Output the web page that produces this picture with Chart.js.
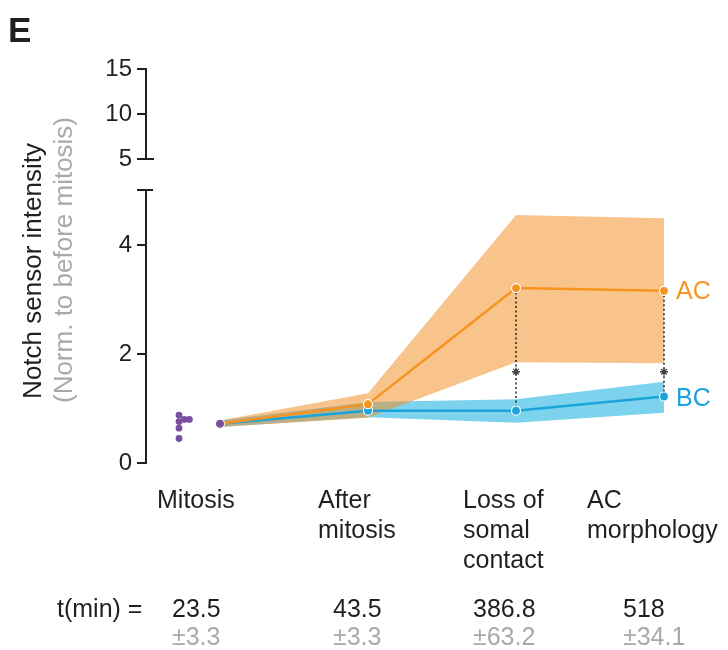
<!DOCTYPE html>
<html>
<head>
<meta charset="utf-8">
<script src="https://cdn.jsdelivr.net/npm/chart.js@4"></script>
<style>
  html, body { margin: 0; padding: 0; background: #fff; }
  #wrap { width: 728px; height: 650px; }
</style>
</head>
<body>
<div id="wrap"><canvas id="myChart" width="728" height="650"></canvas></div>
<script>
// stages along x (index 0..3)
const stageX = [0, 1, 2, 3];
const stageLabels = [['Mitosis'], ['After', 'mitosis'], ['Loss of', 'somal', 'contact'], ['AC', 'morphology']];
const tMean = ['23.5', '43.5', '386.8', '518'];
const tSd = ['±3.3', '±3.3', '±63.2', '±34.1'];

// AC cells (mean and band)
const acMean = [0.72, 1.08, 3.21, 3.16];
const acLow = [0.66, 0.83, 1.85, 1.83];
const acHigh = [0.78, 1.28, 4.55, 4.49];

// BC cells (mean and band)
const bcMean = [0.72, 0.96, 0.96, 1.22];
const bcLow = [0.66, 0.84, 0.74, 0.92];
const bcHigh = [0.78, 1.12, 1.17, 1.49];

// single cells at mitosis
const dotX = [-0.277, -0.277, -0.241, -0.207, -0.277, -0.277];
const dotY = [0.88, 0.76, 0.80, 0.80, 0.64, 0.45];

// significance marks
const sigX = [2, 3];
const sigY = [1.675, 1.675];

// axis ticks
const lowerTicks = [0, 2, 4];
const upperTicks = [5, 10, 15];

const FONT = "'Liberation Sans', Arial, Helvetica, sans-serif";
const BLACK = '#231f20';
const GREY = '#a7a9ac';
const ORANGE = '#f7931e';
const BLUE = '#1ba3dc';
const PURPLE = '#7a4ea2';

const pts = (ys) => ys.map((y, i) => ({x: stageX[i], y: y}));

const datasets = [
  // blue band
  {type: 'line', data: pts(bcLow), borderWidth: 0, pointRadius: 0, fill: false, order: 6},
  {type: 'line', data: pts(bcHigh), borderWidth: 0, pointRadius: 0, fill: '-1', backgroundColor: '#7dd3ee', order: 6},
  // orange band
  {type: 'line', data: pts(acLow), borderWidth: 0, pointRadius: 0, fill: false, order: 5},
  {type: 'line', data: pts(acHigh), borderWidth: 0, pointRadius: 0, fill: '-1', backgroundColor: 'rgba(243,139,29,0.51)', order: 5},
  // dotted connectors
  {type: 'line', data: [{x: stageX[2], y: acMean[2]}, {x: stageX[2], y: bcMean[2]}], borderColor: BLACK, borderWidth: 1.5,
    borderDash: [2, 2.5], pointRadius: 0, fill: false, order: 4.5},
  {type: 'line', data: [{x: stageX[3], y: acMean[3]}, {x: stageX[3], y: bcMean[3]}], borderColor: BLACK, borderWidth: 1.5,
    borderDash: [2, 2.5], pointRadius: 0, fill: false, order: 4.5},
  // mean lines
  {type: 'line', data: pts(bcMean), borderColor: BLUE, borderWidth: 2.5, fill: false,
    pointRadius: [0, 4.5, 4.5, 4.5], pointBackgroundColor: BLUE, pointBorderColor: '#fff', pointBorderWidth: 1.2, order: 4},
  {type: 'line', data: pts(acMean), borderColor: ORANGE, borderWidth: 2.5, fill: false,
    pointRadius: [0, 4.5, 4.5, 4.5], pointBackgroundColor: ORANGE, pointBorderColor: '#fff', pointBorderWidth: 1.2, order: 3},
  // asterisks
  {type: 'scatter', data: sigX.map((x, i) => ({x: x, y: sigY[i]})), pointStyle: 'star', pointRadius: 4,
    borderColor: '#444', borderWidth: 1.3, order: 1},
  // mitosis point + individual cells
  {type: 'scatter', data: [{x: stageX[0], y: acMean[0]}], pointRadius: 4.5, pointBackgroundColor: PURPLE,
    pointBorderColor: '#fff', pointBorderWidth: 1, order: 0},
  {type: 'scatter', data: dotX.map((x, i) => ({x: x, y: dotY[i]})), pointRadius: 3.4, pointBackgroundColor: PURPLE,
    pointBorderWidth: 0, order: 0}
];

// axis lines with the break, plus all the text around the plot
const decor = {
  id: 'decor',
  afterDraw(chart) {
    const ctx = chart.ctx;
    const xs = chart.scales.x, yl = chart.scales.y, yu = chart.scales.yTop;
    const ax = chart.chartArea.left;
    ctx.save();
    ctx.strokeStyle = BLACK;
    ctx.lineWidth = 2;
    ctx.beginPath();
    // lower axis
    ctx.moveTo(ax, yl.getPixelForValue(0) + 1);
    ctx.lineTo(ax, yl.top);
    ctx.moveTo(ax - 9, yl.top);
    ctx.lineTo(ax + 7, yl.top);
    // upper axis
    ctx.moveTo(ax, yu.getPixelForValue(upperTicks[0]));
    ctx.lineTo(ax, yu.getPixelForValue(upperTicks[2]) - 1);
    ctx.moveTo(ax, yu.getPixelForValue(upperTicks[0]));
    ctx.lineTo(ax + 8, yu.getPixelForValue(upperTicks[0]));
    ctx.stroke();

    // panel letter
    ctx.fillStyle = BLACK;
    ctx.font = 'bold 35px ' + FONT;
    ctx.textAlign = 'left';
    ctx.textBaseline = 'alphabetic';
    ctx.fillText('E', 8, 42);

    // y title
    ctx.font = '26px ' + FONT;
    ctx.textAlign = 'center';
    ctx.save();
    ctx.translate(41, 271);
    ctx.rotate(-Math.PI / 2);
    ctx.fillText('Notch sensor intensity', 0, 0);
    ctx.restore();
    ctx.save();
    ctx.fillStyle = GREY;
    ctx.translate(72, 260);
    ctx.rotate(-Math.PI / 2);
    ctx.fillText('(Norm. to before mitosis)', 0, 0);
    ctx.restore();

    // end labels
    ctx.textAlign = 'left';
    ctx.textBaseline = 'middle';
    ctx.font = '25px ' + FONT;
    ctx.fillStyle = ORANGE;
    ctx.fillText('AC', xs.getPixelForValue(stageX[3]) + 12, yl.getPixelForValue(acMean[3]) + 1);
    ctx.fillStyle = BLUE;
    ctx.fillText('BC', xs.getPixelForValue(stageX[3]) + 12, yl.getPixelForValue(bcMean[3]) + 3);

    // stage labels and times
    const labelDx = [-63, -50, -53, -77];
    const timeDx = [-48, -35, -43, -41];
    ctx.textBaseline = 'alphabetic';
    ctx.font = '25px ' + FONT;
    ctx.fillStyle = BLACK;
    stageLabels.forEach((lines, i) => {
      const px = xs.getPixelForValue(stageX[i]);
      lines.forEach((t, j) => ctx.fillText(t, px + labelDx[i], 508 + j * 30));
      ctx.fillStyle = BLACK;
      ctx.fillText(tMean[i], px + timeDx[i], 617);
      ctx.fillStyle = GREY;
      ctx.fillText(tSd[i], px + timeDx[i], 645);
      ctx.fillStyle = BLACK;
    });
    ctx.fillText('t(min) =', 57, 617);
    ctx.restore();
  }
};

const tickFont = {family: FONT, size: 24};

new Chart(document.getElementById('myChart'), {
  data: {datasets: datasets},
  options: {
    responsive: false,
    animation: false,
    layout: {padding: {left: 0, top: 69, right: 19.6, bottom: 187}},
    plugins: {legend: {display: false}, tooltip: {enabled: false}},
    scales: {
      x: {type: 'linear', min: -0.5, max: 3.3, display: false},
      y: {
        type: 'linear', position: 'left', stack: 'left', stackWeight: 273,
        min: 0, max: 5.01,
        afterBuildTicks: (s) => { s.ticks = lowerTicks.map(v => ({value: v})); },
        afterFit: (s) => { s.width = 146; },
        ticks: {font: tickFont, color: BLACK, padding: 5, autoSkip: false},
        grid: {drawOnChartArea: false, tickLength: 9, lineWidth: 2, color: BLACK},
        border: {display: false}
      },
      yTop: {
        type: 'linear', position: 'left', stack: 'left', stackWeight: 121,
        min: 1.556, max: 15,
        afterBuildTicks: (s) => { s.ticks = upperTicks.map(v => ({value: v})); },
        afterFit: (s) => { s.width = 146; },
        ticks: {font: tickFont, color: BLACK, padding: 5, autoSkip: false},
        grid: {drawOnChartArea: false, tickLength: 9, lineWidth: 2, color: BLACK},
        border: {display: false}
      }
    }
  },
  plugins: [decor]
});
</script>
</body>
</html>
